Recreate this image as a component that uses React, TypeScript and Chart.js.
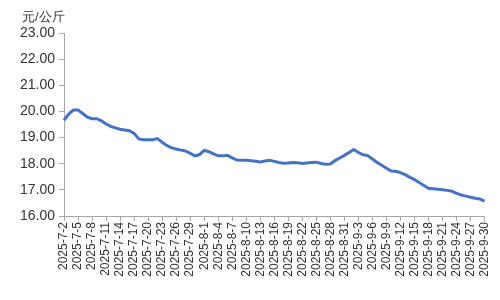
import React, { useEffect, useRef } from "react";
import { Chart, registerables } from "chart.js";

Chart.register(...registerables);

const startDate = { y: 2025, m: 7, d: 2 };
const monthDays = [31, 31, 30];

const dates: string[] = (() => {
  const out: string[] = [];
  let m = startDate.m;
  let d = startDate.d;
  for (let k = 0; k < 91; k++) {
    out.push(`${startDate.y}-${m}-${d}`);
    d++;
    if (d > monthDays[m - 7]) {
      d = 1;
      m++;
    }
  }
  return out;
})();

const prices: number[] = [
  19.66, 19.9, 20.05, 20.05, 19.92, 19.78, 19.72, 19.72, 19.64, 19.52,
  19.43, 19.37, 19.32, 19.29, 19.26, 19.16, 18.95, 18.92, 18.92, 18.92,
  18.96, 18.82, 18.7, 18.61, 18.56, 18.52, 18.49, 18.4, 18.3, 18.35,
  18.51, 18.46, 18.38, 18.3, 18.3, 18.32, 18.22, 18.14, 18.13, 18.13,
  18.11, 18.09, 18.07, 18.1, 18.13, 18.09, 18.05, 18.02, 18.03, 18.05,
  18.04, 18.01, 18.03, 18.05, 18.06, 18.01, 17.98, 17.99, 18.12, 18.22,
  18.32, 18.43, 18.54, 18.43, 18.34, 18.31, 18.18, 18.05, 17.94, 17.83,
  17.72, 17.71, 17.66, 17.58, 17.48, 17.39, 17.28, 17.17, 17.06, 17.04,
  17.02, 17.0, 16.98, 16.95, 16.87, 16.8, 16.76, 16.72, 16.68, 16.65,
  16.57,
];

const yMin = 16;
const yMax = 23;
const yStep = 1;
const unitLabel = "元/公斤";
const labelEvery = 3;

const FONT = "'Liberation Sans', Arial, sans-serif";

export default function App() {
  const ref = useRef<HTMLCanvasElement | null>(null);

  useEffect(() => {
    document.body.style.margin = "0";
    const canvas = ref.current;
    if (!canvas) return;

    const unitPlugin = {
      id: "unitTitle",
      afterDraw(chart: any) {
        const ctx = chart.ctx;
        ctx.save();
        ctx.font = `13px ${FONT}`;
        ctx.fillStyle = "#333333";
        ctx.textAlign = "left";
        ctx.textBaseline = "middle";
        ctx.fillText(unitLabel, 22, 17);
        ctx.restore();
      },
    };

    const chart = new Chart(canvas, {
      type: "line",
      data: {
        labels: dates,
        datasets: [
          {
            data: prices,
            borderColor: "#4472C4",
            borderWidth: 3,
            pointRadius: 0,
            tension: 0,
            fill: false,
          },
        ],
      },
      options: {
        animation: false,
        responsive: false,
        maintainAspectRatio: false,
        layout: { padding: { top: 33, right: 13, left: 0, bottom: 0 } },
        plugins: {
          legend: { display: false },
          tooltip: { enabled: false },
        },
        scales: {
          x: {
            type: "category",
            offset: false,
            afterFit(scale: any) {
              scale.height = 84;
            },
            border: { display: true, color: "#A6A6A6", width: 1 },
            grid: {
              display: true,
              drawOnChartArea: false,
              drawTicks: true,
              tickLength: 5,
              color: "#A6A6A6",
            },
            ticks: {
              autoSkip: false,
              maxRotation: 90,
              minRotation: 90,
              padding: 1,
              color: "#333333",
              font: { family: FONT, size: 12 },
              callback(_v: any, i: number) {
                return i % labelEvery === 0 ? dates[i] : null;
              },
            },
          },
          y: {
            min: yMin,
            max: yMax,
            afterFit(scale: any) {
              scale.width = 64;
            },
            border: { display: true, color: "#A6A6A6", width: 1 },
            grid: {
              display: true,
              drawOnChartArea: false,
              drawTicks: true,
              tickLength: 5,
              color: "#A6A6A6",
            },
            ticks: {
              stepSize: yStep,
              padding: 4,
              color: "#333333",
              font: { family: FONT, size: 14 },
              callback(v: any) {
                return Number(v).toFixed(2);
              },
            },
          },
        },
      },
      plugins: [unitPlugin],
    } as any);

    return () => chart.destroy();
  }, []);

  return (
    <div style={{ width: 500, height: 300 }}>
      <canvas ref={ref} width={500} height={300} />
    </div>
  );
}
